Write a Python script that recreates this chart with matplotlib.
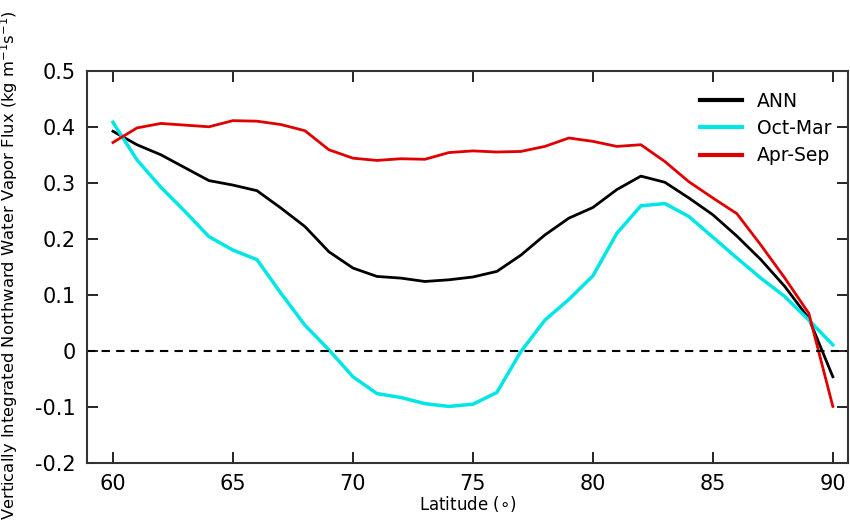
import numpy as np
import matplotlib.pyplot as plt

lat = np.arange(60, 91)

ann = [0.392, 0.368, 0.350, 0.327, 0.304, 0.296, 0.286, 0.255, 0.222, 0.177,
       0.148, 0.133, 0.130, 0.124, 0.127, 0.132, 0.142, 0.171, 0.207, 0.237,
       0.256, 0.288, 0.312, 0.301, 0.273, 0.243, 0.205, 0.163, 0.115, 0.058,
       -0.046]
oct_mar = [0.408, 0.341, 0.292, 0.249, 0.204, 0.180, 0.163, 0.103, 0.046, 0.002,
           -0.046, -0.076, -0.083, -0.094, -0.099, -0.095, -0.074, -0.001, 0.055, 0.092,
           0.134, 0.210, 0.259, 0.263, 0.240, 0.203, 0.166, 0.130, 0.097, 0.055,
           0.011]
apr_sep = [0.372, 0.398, 0.406, 0.403, 0.400, 0.411, 0.410, 0.404, 0.393, 0.359,
           0.344, 0.340, 0.343, 0.342, 0.354, 0.357, 0.355, 0.356, 0.365, 0.380,
           0.374, 0.365, 0.368, 0.338, 0.302, 0.273, 0.245, 0.189, 0.130, 0.067,
           -0.099]

yticks = [-0.2, -0.1, 0, 0.1, 0.2, 0.3, 0.4, 0.5]
ytick_labels = ['-0.2', '-0.1', '0', '0.1', '0.2', '0.3', '0.4', '0.5']
xticks = [60, 65, 70, 75, 80, 85, 90]

fig = plt.figure(figsize=(8.5, 5.28), dpi=100)
ax = fig.add_axes([0.1024, 0.123, 0.8952, 0.743])

ax.plot(lat, ann, color='black', lw=2, label='ANN')
ax.plot(lat, oct_mar, color='#00e5e5', lw=2.5, label='Oct-Mar')
ax.plot(lat, apr_sep, color='#e00000', lw=2, label='Apr-Sep')
ax.axhline(0, color='black', lw=1.5, ls=(0, (4, 3)))

ax.set_xlim(58.92, 90.63)
ax.set_ylim(-0.2, 0.5)
ax.set_xticks(xticks)
ax.set_yticks(yticks)
ax.set_yticklabels(ytick_labels)
ax.tick_params(direction='in', top=True, right=True, length=8, width=1.2,
               labelsize=15, pad=8)
for s in ax.spines.values():
    s.set_linewidth(1.5)
    s.set_color('#333333')

ax.set_xlabel(r'Latitude ($\circ$)', fontsize=12, labelpad=0)
ax.set_ylabel(r'Vertically Integrated Northward Water Vapor Flux (kg m$^{-1}$s$^{-1}$)',
              fontsize=11.8)
ax.yaxis.set_label_coords(-0.088, 0.505)

leg = ax.legend(loc='upper right', frameon=False, fontsize=13.5, handlelength=2.2,
                labelspacing=0.45, bbox_to_anchor=(1.0, 0.99))
for line in leg.get_lines():
    line.set_linewidth(3)

fig.savefig('out.png', dpi=100)
